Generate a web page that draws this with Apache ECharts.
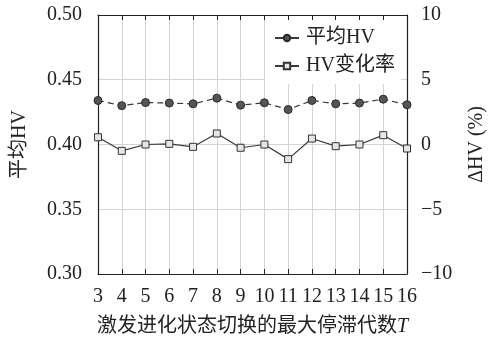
<!DOCTYPE html>
<html>
<head>
<meta charset="utf-8">
<script src="https://cdn.jsdelivr.net/npm/echarts@6/dist/echarts.min.js"></script>
<style>
  html, body { margin: 0; padding: 0; background: #fff; }
  #chart { width: 495px; height: 342px; }
</style>
</head>
<body>
<div id="chart"></div>
<script>
// Maximum stagnation generations T before switching evolution state
var stagnationT = [3, 4, 5, 6, 7, 8, 9, 10, 11, 12, 13, 14, 15, 16];
// Mean hypervolume (left axis)
var meanHV = [0.434, 0.430, 0.4324, 0.432, 0.4314, 0.4358, 0.4304, 0.4322, 0.427, 0.434, 0.4314, 0.432, 0.435, 0.4307];
// Hypervolume change rate in percent (right axis)
var hvChange = [0.56, -0.49, 0.0, 0.05, -0.18, 0.85, -0.25, 0.0, -1.13, 0.46, -0.13, 0.0, 0.72, -0.31];

var leftTicks = { min: 0.30, max: 0.50, step: 0.05 };
var rightTicks = { min: -10, max: 10, step: 5 };

var serif = '"Liberation Serif", "Noto Sans CJK SC", serif';
var cjk = '"Liberation Serif", "Noto Sans CJK SC", sans-serif';
var ink = '#222';
var gridColor = '#d4d4d4';
var tickFont = 20;

function pairs(xs, ys) {
  return xs.map(function (x, i) { return [x, ys[i]]; });
}

var chart = echarts.init(document.getElementById('chart'), null, { renderer: 'canvas' });

chart.setOption({
  animation: false,
  backgroundColor: '#fff',
  grid: { left: 98, right: 87, top: 15, bottom: 68 },
  legend: {
    left: 265,
    top: 20,
    orient: 'vertical',
    backgroundColor: '#fff',
    padding: [8, 6, 8, 9],
    itemGap: 8,
    itemWidth: 24,
    itemHeight: 8,
    lineStyle: { type: 'solid' },
    textStyle: { fontFamily: cjk, fontSize: 20, color: ink, padding: [0, 0, 0, 2] },
    data: ['平均HV', 'HV变化率']
  },
  xAxis: [
    {
      type: 'value',
      position: 'bottom',
      min: stagnationT[0],
      max: stagnationT[stagnationT.length - 1],
      interval: 1,
      name: '激发进化状态切换的最大停滞代数{i|T}',
      nameLocation: 'middle',
      nameGap: 43,
      nameTextStyle: {
        fontFamily: cjk, fontSize: 20, color: ink,
        rich: { i: { fontFamily: serif, fontStyle: 'italic', fontSize: 20, color: ink } }
      },
      axisLine: { onZero: false, lineStyle: { color: ink, width: 1.2 } },
      axisTick: { inside: true, length: 5, lineStyle: { color: ink } },
      axisLabel: { fontFamily: serif, fontSize: tickFont, color: ink, margin: 13 },
      splitLine: { show: true, lineStyle: { color: gridColor, width: 1 } }
    },
    {
      type: 'value',
      position: 'top',
      min: stagnationT[0],
      max: stagnationT[stagnationT.length - 1],
      interval: 1,
      axisLine: { onZero: false, lineStyle: { color: ink, width: 1.2 } },
      axisTick: { inside: true, length: 5, lineStyle: { color: ink } },
      axisLabel: { show: false },
      splitLine: { show: false }
    }
  ],
  yAxis: [
    {
      type: 'value',
      position: 'left',
      min: leftTicks.min,
      max: leftTicks.max,
      interval: leftTicks.step,
      name: '平均HV',
      nameLocation: 'middle',
      nameGap: 68,
      nameRotate: 90,
      nameTextStyle: { fontFamily: cjk, fontSize: 20, color: ink },
      axisLine: { show: true, onZero: false, lineStyle: { color: ink, width: 1.2 } },
      axisTick: { show: false },
      axisLabel: {
        fontFamily: serif, fontSize: tickFont, color: ink, margin: 16,
        formatter: function (v) { return v.toFixed(2); }
      },
      splitLine: { show: true, lineStyle: { color: gridColor, width: 1 } }
    },
    {
      type: 'value',
      position: 'right',
      min: rightTicks.min,
      max: rightTicks.max,
      interval: rightTicks.step,
      name: 'ΔHV (%)',
      nameLocation: 'middle',
      nameGap: 60,
      nameRotate: 90,
      nameTextStyle: { fontFamily: serif, fontSize: 20, color: ink },
      axisLine: { show: true, onZero: false, lineStyle: { color: ink, width: 1.2 } },
      axisTick: { show: false },
      axisLabel: {
        fontFamily: serif, fontSize: tickFont, color: ink, margin: 14,
        formatter: function (v) { return v < 0 ? '\u2212' + Math.abs(v) : String(v); }
      },
      splitLine: { show: false }
    }
  ],
  series: [
    {
      name: '平均HV',
      type: 'line',
      xAxisIndex: 0,
      yAxisIndex: 0,
      data: pairs(stagnationT, meanHV),
      symbol: 'circle',
      symbolSize: 8,
      z: 3,
      lineStyle: { color: '#3a3a3a', width: 1.2, type: [6, 4] },
      itemStyle: { color: '#555', borderColor: '#2a2a2a', borderWidth: 1 }
    },
    {
      name: 'HV变化率',
      type: 'line',
      xAxisIndex: 0,
      yAxisIndex: 1,
      data: pairs(stagnationT, hvChange),
      symbol: 'rect',
      symbolSize: 7,
      z: 3,
      lineStyle: { color: '#3a3a3a', width: 1.2, type: 'solid' },
      itemStyle: { color: '#e6e6e6', borderColor: '#333', borderWidth: 1 }
    }
  ]
});
</script>
</body>
</html>
